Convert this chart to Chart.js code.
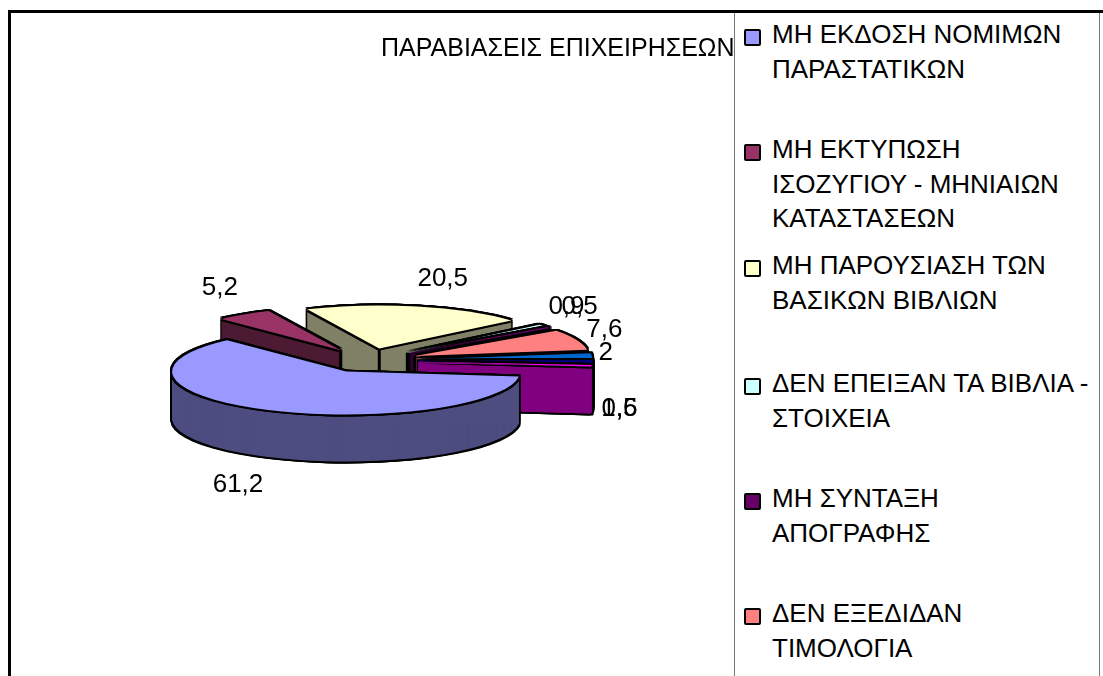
<!DOCTYPE html>
<html><head><meta charset="utf-8">
<style>
html,body{margin:0;padding:0;background:#fff;width:1103px;height:676px;overflow:hidden}
#c{position:absolute;left:0;top:0}
#frame{position:absolute;left:8px;top:10px;right:0;bottom:0;border-top:3px solid #000;border-left:3px solid #000;pointer-events:none}
#legend{position:absolute;left:734px;top:13px;width:364px;bottom:0;background:#fff;border-left:1px solid #777;border-right:1px solid #777;overflow:hidden;font-family:"Liberation Sans",Arial,sans-serif;font-size:26px;color:#000}
.it{position:absolute;left:37px;white-space:nowrap;line-height:34.5px;letter-spacing:0}
.mk{position:absolute;left:9px;width:13px;height:13px;border:2px solid #000;border-radius:2px}
</style>
<script src="https://cdn.jsdelivr.net/npm/chart.js@4"></script>
</head><body>
<canvas id="c" width="1103" height="676"></canvas>
<div id="legend"></div>
<div id="frame"></div>
<script>
const chartTitle = 'ΠΑΡΑΒΙΑΣΕΙΣ ΕΠΙΧΕΙΡΗΣΕΩΝ';
const categories = [
  'ΜΗ ΕΚΔΟΣΗ ΝΟΜΙΜΩΝ|ΠΑΡΑΣΤΑΤΙΚΩΝ',
  'ΜΗ ΕΚΤΥΠΩΣΗ|ΙΣΟΖΥΓΙΟΥ - ΜΗΝΙΑΙΩΝ|ΚΑΤΑΣΤΑΣΕΩΝ',
  'ΜΗ ΠΑΡΟΥΣΙΑΣΗ ΤΩΝ|ΒΑΣΙΚΩΝ ΒΙΒΛΙΩΝ',
  'ΔΕΝ ΕΠΕΙΞΑΝ ΤΑ ΒΙΒΛΙΑ -|ΣΤΟΙΧΕΙΑ',
  'ΜΗ ΣΥΝΤΑΞΗ|ΑΠΟΓΡΑΦΗΣ',
  'ΔΕΝ ΕΞΕΔΙΔΑΝ|ΤΙΜΟΛΟΓΙΑ',
  '', '', ''
];
const values = [61.2, 5.2, 20.5, 0.9, 0.5, 7.6, 2, 1.5, 0.6];
const colors = ['#9999FF','#993366','#FFFFCC','#CCFFFF','#660066','#FF8080','#0066CC','#000080','#FF00FF'];
const labelNudges = [[-30,75],[-24,-27],[26,-28],[24,-19],[31,-20.5],[28,-10],[14,-3],[27,47],[28,43]];
const legendTops = [22,137,253,371,486,601];

const FONT = '26px "Liberation Sans", Arial, sans-serif';
const TITLE_FONT = '25px "Liberation Sans", Arial, sans-serif';
const TILT = 0.247, DEPTH = 47, EXPLODE = 50, RADIUS = 174;

function dark(hex){
  const n = parseInt(hex.slice(1),16);
  const h = v => Math.round(v/2).toString(16).padStart(2,'0');
  return '#'+h(n>>16&255)+h(n>>8&255)+h(n&255);
}

const pie3d = {
  id:'pie3d',
  beforeDatasetsDraw(chart){
    const ctx = chart.ctx, arcs = chart.getDatasetMeta(0).data;
    const items = arcs.map((arc,i)=>{
      const mid = (arc.startAngle+arc.endAngle)/2;
      return {arc,i,mid,ex:EXPLODE*Math.cos(mid),ey:EXPLODE*TILT*Math.sin(mid)};
    }).sort((a,b)=>a.ey-b.ey);
    const paint = (it,color,dx,dy)=>{
      const a = it.arc;
      const clone = new Chart.ArcElement({x:a.x,y:a.y,startAngle:a.startAngle,endAngle:a.endAngle,
        innerRadius:0,outerRadius:a.outerRadius,circumference:a.circumference,
        options:{...a.options,backgroundColor:color,borderWidth:0,offset:0,spacing:0}});
      ctx.save();
      ctx.translate(a.x+it.ex+dx,a.y+it.ey+dy);
      ctx.scale(1,TILT);
      ctx.translate(-a.x,-a.y);
      clone.draw(ctx);
      ctx.restore();
    };
    const W = 1.9, dirs = [[W,0],[-W,0],[0,W],[0,-W],[W,W],[-W,W],[W,-W],[-W,-W]];
    items.forEach(it=>{
      const a = it.arc, col = colors[it.i], wall = dark(col);
      for(let d=DEPTH;d>=0;d-=1) dirs.forEach(o=>paint(it,'#000',o[0],d+o[1]));
      for(let d=DEPTH;d>=1;d-=1) paint(it,wall,0,d);
      const ax=a.x+it.ex, ay=a.y+it.ey;
      ctx.save();
      ctx.fillStyle=wall;
      [a.startAngle,a.endAngle].forEach(t=>{
        const x=ax+a.outerRadius*Math.cos(t), y=ay+a.outerRadius*TILT*Math.sin(t);
        ctx.beginPath();ctx.moveTo(ax,ay);ctx.lineTo(x,y);ctx.lineTo(x,y+DEPTH);ctx.lineTo(ax,ay+DEPTH);ctx.closePath();ctx.fill();
      });
      if(Math.sin(it.mid)<0){
        ctx.strokeStyle='#000';ctx.lineWidth=3;ctx.beginPath();
        ctx.moveTo(ax,ay);ctx.lineTo(ax,ay+DEPTH);ctx.stroke();
      }
      ctx.restore();
      dirs.forEach(o=>paint(it,'#000',o[0],o[1]));
      paint(it,col,0,0);
    });
    return false;
  },
  afterDraw(chart){
    const ctx = chart.ctx, arcs = chart.getDatasetMeta(0).data;
    ctx.save();
    ctx.fillStyle='#000';ctx.font=FONT;ctx.textAlign='center';ctx.textBaseline='middle';
    arcs.forEach((a,i)=>{
      const mid=(a.startAngle+a.endAngle)/2, r=EXPLODE+a.outerRadius;
      const x=a.x+r*Math.cos(mid)+labelNudges[i][0], y=a.y+r*TILT*Math.sin(mid)+labelNudges[i][1];
      ctx.fillText(String(values[i]).replace('.',','),x,y);
    });
    ctx.textAlign='left';ctx.font=TITLE_FONT;
    ctx.fillText(chartTitle,381,49);
    ctx.restore();
  }
};

new Chart(document.getElementById('c'),{
  type:'pie',
  data:{labels:categories.map(c=>c.replace(/\|/g,' ')),datasets:[{data:values,backgroundColor:colors,borderWidth:0}]},
  options:{
    responsive:false,animation:false,devicePixelRatio:1,
    rotation:96.5,radius:RADIUS,
    layout:{padding:{left:0,right:366,top:45,bottom:0}},
    plugins:{legend:{display:false},title:{display:false},tooltip:{enabled:false}}
  },
  plugins:[pie3d]
});

const lg=document.getElementById('legend');
legendTops.forEach((t,i)=>{
  const m=document.createElement('div');m.className='mk';m.style.top=(t-6)+'px';m.style.background=colors[i];lg.appendChild(m);
  const d=document.createElement('div');d.className='it';d.style.top=(t-18)+'px';d.innerHTML=categories[i].split('|').join('<br>');lg.appendChild(d);
});
</script>
</body></html>
